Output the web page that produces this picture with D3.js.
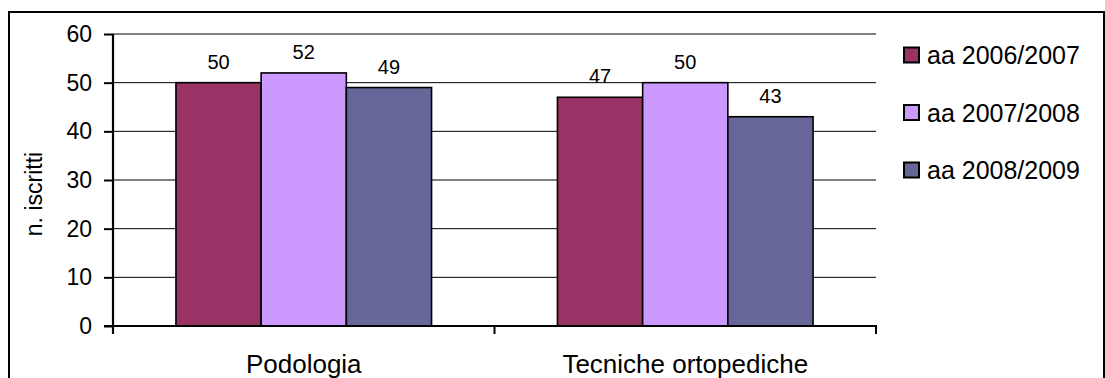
<!DOCTYPE html>
<html>
<head>
<meta charset="utf-8">
<script src="https://cdn.jsdelivr.net/npm/d3@7"></script>
<style>
  html, body { margin: 0; padding: 0; background: #fff; }
  svg { display: block; font-family: "Liberation Sans", Arial, sans-serif; }
</style>
</head>
<body>
<svg id="chart" width="1105" height="378"></svg>
<script>
const categories = ["Podologia", "Tecniche ortopediche"];
const seriesNames = ["aa 2006/2007", "aa 2007/2008", "aa 2008/2009"];
const values2006 = [50, 47];
const values2007 = [52, 50];
const values2008 = [49, 43];
const yTicks = [0, 10, 20, 30, 40, 50, 60];
const seriesColors = ["#993366", "#CC99FF", "#666699"];

(function () {
const seriesValues = [values2006, values2007, values2008];

const svg = d3.select("#chart");
const pLeft = 113, pRight = 876, pTop = 34, pBottom = 326;

// outer frame
svg.append("rect")
  .attr("x", 9).attr("y", 12)
  .attr("width", 1095).attr("height", 380)
  .attr("fill", "none").attr("stroke", "#000").attr("stroke-width", 2);

const x = d3.scaleBand().domain(categories).range([pLeft, pRight])
  .paddingInner(0.33).paddingOuter(0.165);
const xs = d3.scaleBand().domain(seriesNames).range([0, x.bandwidth()]);
const y = d3.scaleLinear().domain([0, 60]).range([pBottom, pTop]);

// gridlines
svg.append("g").selectAll("line").data(yTicks.filter(d => d > 0)).join("line")
  .attr("x1", pLeft).attr("x2", pRight)
  .attr("y1", d => y(d)).attr("y2", d => y(d))
  .attr("stroke", "#000").attr("stroke-width", 1);

// bars
const groups = svg.append("g").selectAll("g").data(categories).join("g")
  .attr("transform", c => `translate(${x(c)},0)`);
groups.selectAll("rect")
  .data((c, ci) => seriesNames.map((s, si) => ({ s, si, v: seriesValues[si][ci] })))
  .join("rect")
  .attr("x", d => xs(d.s))
  .attr("width", xs.bandwidth())
  .attr("y", d => y(d.v))
  .attr("height", d => y(0) - y(d.v))
  .attr("fill", d => seriesColors[d.si])
  .attr("stroke", "#000").attr("stroke-width", 1.6);

groups.selectAll("text")
  .data((c, ci) => seriesNames.map((s, si) => ({ s, si, v: seriesValues[si][ci] })))
  .join("text")
  .attr("x", d => xs(d.s) + xs.bandwidth() / 2)
  .attr("y", d => y(d.v) - 14)
  .attr("text-anchor", "middle")
  .attr("font-size", 20)
  .attr("fill", "#000")
  .text(d => d.v);

// y axis
const yAxis = d3.axisLeft(y).tickValues(yTicks).tickSize(9).tickPadding(12);
const gy = svg.append("g").attr("transform", `translate(${pLeft},0)`).call(yAxis);
gy.select(".domain").attr("stroke-width", 2.2).attr("d", `M0,${pBottom + 8}V${pTop}`);
gy.selectAll(".tick line").attr("stroke-width", 2);
gy.selectAll(".tick text").attr("font-size", 23).attr("font-family", "Liberation Sans, Arial, sans-serif").attr("fill", "#000");

// x axis
const gx = svg.append("g").attr("transform", `translate(0,${pBottom})`);
gx.append("line").attr("x1", pLeft - 9).attr("x2", pRight + 1).attr("y1", 0).attr("y2", 0)
  .attr("stroke", "#000").attr("stroke-width", 2.2);
const boundaries = [pRight, (x(categories[0]) + x.bandwidth() + x(categories[1])) / 2];
gx.selectAll("line.tk").data(boundaries).join("line").attr("class", "tk")
  .attr("x1", d => d).attr("x2", d => d).attr("y1", 0).attr("y2", 8)
  .attr("stroke", "#000").attr("stroke-width", 2);
gx.selectAll("text").data(categories).join("text")
  .attr("x", c => x(c) + x.bandwidth() / 2)
  .attr("y", 47)
  .attr("text-anchor", "middle")
  .attr("font-size", 26)
  .attr("fill", "#000")
  .text(c => c);

// axis title
svg.append("text")
  .attr("transform", "translate(42,194) rotate(-90)")
  .attr("text-anchor", "middle")
  .attr("font-size", 23)
  .attr("fill", "#000")
  .text("n. iscritti");

// legend
const legend = svg.append("g").selectAll("g").data(seriesNames).join("g")
  .attr("transform", (d, i) => `translate(903,${55 + i * 57.5})`);
legend.append("rect")
  .attr("x", 1).attr("y", -7.5).attr("width", 15).attr("height", 15)
  .attr("fill", (d, i) => seriesColors[i])
  .attr("stroke", "#000").attr("stroke-width", 2);
legend.append("text")
  .attr("x", 24).attr("y", 9)
  .attr("font-size", 25)
  .attr("fill", "#000")
  .text(d => d);
})();
</script>
</body>
</html>
